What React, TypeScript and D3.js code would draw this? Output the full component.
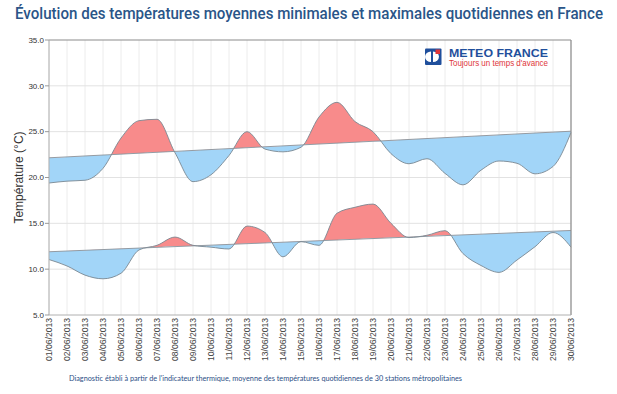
import React from "react";
import * as d3 from "d3";

const dates = [
  "01/06/2013","02/06/2013","03/06/2013","04/06/2013","05/06/2013","06/06/2013","07/06/2013","08/06/2013","09/06/2013","10/06/2013",
  "11/06/2013","12/06/2013","13/06/2013","14/06/2013","15/06/2013","16/06/2013","17/06/2013","18/06/2013","19/06/2013","20/06/2013",
  "21/06/2013","22/06/2013","23/06/2013","24/06/2013","25/06/2013","26/06/2013","27/06/2013","28/06/2013","29/06/2013","30/06/2013",
];
const maxTemp = [19.4,19.6,19.7,21.0,24.3,26.2,26.35,22.7,19.55,20.3,22.4,25.0,23.1,22.8,23.3,26.6,28.2,26.1,25.0,22.6,21.5,22.05,20.45,19.2,20.8,21.8,21.55,20.4,21.2,24.9];
const maxNormal = [22.15,22.25,22.35,22.45,22.55,22.65,22.75,22.85,22.95,23.05,23.15,23.25,23.35,23.45,23.55,23.65,23.75,23.85,23.95,24.05,24.15,24.25,24.35,24.45,24.55,24.65,24.75,24.85,24.95,25.05];
const minTemp = [11.05,10.35,9.35,8.95,9.55,12.1,12.6,13.5,12.6,12.4,12.2,14.7,14.0,11.35,13.0,12.6,16.1,16.75,17.1,15.0,13.45,13.7,14.2,11.7,10.4,9.65,11.0,12.45,14.0,12.4];
const minNormal = [11.9,11.98,12.06,12.14,12.22,12.3,12.38,12.46,12.54,12.62,12.7,12.78,12.86,12.94,13.02,13.1,13.18,13.26,13.34,13.42,13.5,13.58,13.66,13.74,13.82,13.9,13.98,14.06,14.14,14.22];
const yTicks = [5, 10, 15, 20, 25, 30, 35];

const W = 617, H = 394;
const L = 49, R = 571, T = 40, B = 315;

export default function App() {
  const x = d3.scaleLinear().domain([0, dates.length - 1]).range([L, R]);
  const y = d3.scaleLinear().domain([5, 35]).range([B, T]);
  const curve = d3.curveMonotoneX;
  const idx = dates.map((_, i) => i);

  const pairs = [
    { id: "max", actual: maxTemp, normal: maxNormal },
    { id: "min", actual: minTemp, normal: minNormal },
  ];

  const red = "#f88b8b";
  const blue = "#a2d5f8";

  return (
    <svg width={W} height={H} style={{ display: "block", position: "absolute", left: 0, top: 0, background: "#fff" }} fontFamily="'Liberation Sans', Arial, sans-serif">
      <defs>
        {pairs.map((p) => {
          const above = d3.area<number>().x((i) => x(i)).y0(0).y1((i) => y(p.normal[i])).curve(curve)(idx) || "";
          const below = d3.area<number>().x((i) => x(i)).y0(H).y1((i) => y(p.normal[i])).curve(curve)(idx) || "";
          return (
            <React.Fragment key={p.id}>
              <clipPath id={`above-${p.id}`}><path d={above} /></clipPath>
              <clipPath id={`below-${p.id}`}><path d={below} /></clipPath>
            </React.Fragment>
          );
        })}
      </defs>
      <rect x={0} y={0} width={W} height={H} fill="#fff" />
      <g transform="translate(15,19) scale(1,1.12)">
        <text x={0} y={0} fontSize={14.5} fontWeight={500} fill="#2a5588" textLength={588} lengthAdjust="spacingAndGlyphs" fontFamily="Roboto, 'Liberation Sans', sans-serif">
          Évolution des températures moyennes minimales et maximales quotidiennes en France
        </text>
      </g>

      {idx.map((i) => (
        <line key={`vg${i}`} x1={x(i)} x2={x(i)} y1={T} y2={B} stroke="#ececec" strokeWidth={1} />
      ))}
      {yTicks.slice(1, -1).map((t) => (
        <line key={`hg${t}`} x1={L} x2={R} y1={y(t)} y2={y(t)} stroke="#e2e2e2" strokeWidth={1} />
      ))}

      {pairs.map((p) => {
        const area = d3.area<number>().x((i) => x(i)).y0((i) => y(p.normal[i])).y1((i) => y(p.actual[i])).curve(curve)(idx) || "";
        const lineA = d3.line<number>().x((i) => x(i)).y((i) => y(p.actual[i])).curve(curve)(idx) || "";
        const lineN = d3.line<number>().x((i) => x(i)).y((i) => y(p.normal[i])).curve(curve)(idx) || "";
        return (
          <g key={p.id}>
            <path d={area} fill={red} clipPath={`url(#above-${p.id})`} />
            <path d={area} fill={blue} clipPath={`url(#below-${p.id})`} />
            <path d={lineN} fill="none" stroke="#8a949c" strokeWidth={0.9} />
            <path d={lineA} fill="none" stroke="#7b8892" strokeWidth={0.9} />
          </g>
        );
      })}

      <line x1={L} x2={R} y1={T} y2={T} stroke="#8c8c8c" strokeWidth={1.2} />
      <line x1={R} x2={R} y1={T} y2={B} stroke="#8c8c8c" strokeWidth={1.2} />
      <line x1={L} x2={R} y1={B} y2={B} stroke="#b0b0b0" strokeWidth={1} />
      <line x1={L} x2={L} y1={T} y2={B} stroke="#b0b0b0" strokeWidth={1} />

      {yTicks.map((t) => (
        <g key={`yt${t}`}>
          <line x1={L - 4} x2={L} y1={y(t)} y2={y(t)} stroke="#999" />
          <text x={L - 5} y={y(t)} dy="0.35em" textAnchor="end" fontSize={8} fill="#333">
            {t.toFixed(1)}
          </text>
        </g>
      ))}
      <text transform={`translate(23,${(T + B) / 2}) rotate(-90)`} textAnchor="middle" fontSize={12} fill="#333">
        Température (°C)
      </text>

      {dates.map((d, i) => (
        <text key={`xl${i}`} transform={`translate(${x(i)},${B + 3}) rotate(-90)`} dy="0.35em" textAnchor="end" fontSize={8.6} fill="#444">
          {d}
        </text>
      ))}

      <g>
        <rect x={425} y={48.5} width={16.5} height={16.5} fill="#1f4f9c" rx={1} />
        <path d="M431,51.5 L431,62 A6,5.25 0 0 1 431,51.5 Z" fill="#fff" />
        <path d="M433,51.5 A6,5.25 0 0 1 433,62 Z" fill="#fff" />
        <rect x={435.5} y={49.5} width={4.5} height={4.5} fill="#e0363a" />
        <text x={449} y={57} fontSize={10.5} fontWeight="bold" fill="#1f4f9c" textLength={99} lengthAdjust="spacingAndGlyphs">METEO FRANCE</text>
        <text x={449} y={66} fontSize={8.2} fill="#e0363a" textLength={99} lengthAdjust="spacingAndGlyphs">Toujours un temps d'avance</text>
      </g>

      <text x={69} y={380.5} fontSize={7.6} fill="#2d4f86" textLength={393} lengthAdjust="spacingAndGlyphs" fontFamily="Lato, 'Open Sans', sans-serif">
        Diagnostic établi à partir de l'indicateur thermique, moyenne des températures quotidiennes de 30 stations métropolitaines
      </text>
    </svg>
  );
}
